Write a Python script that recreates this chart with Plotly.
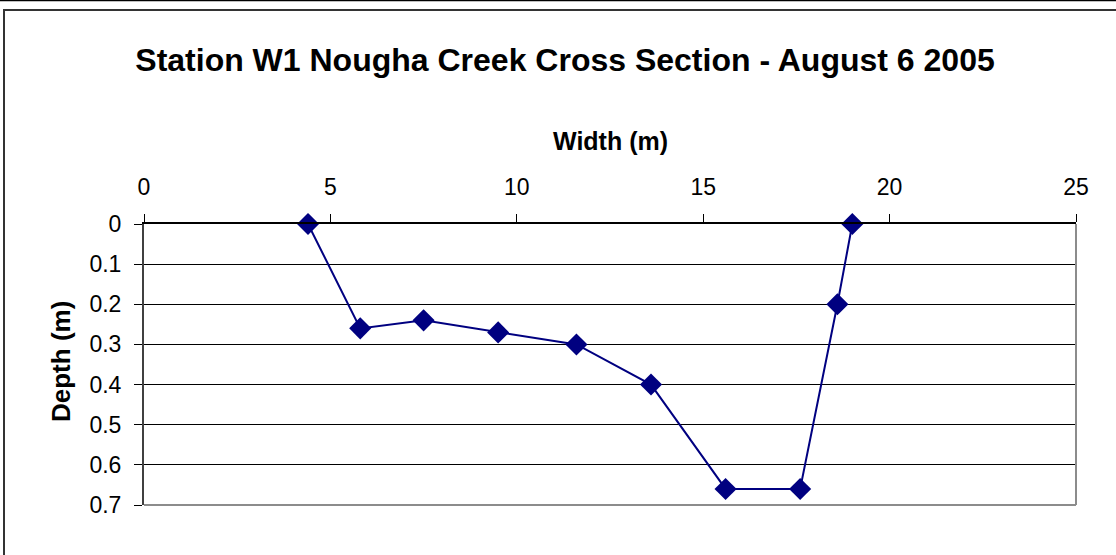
import plotly.graph_objects as go

# Cross-section survey points
width_m = [4.4, 5.8, 7.5, 9.5, 11.6, 13.6, 15.6, 17.6, 18.6, 19.0]
depth_m = [0.0, 0.26, 0.24, 0.27, 0.30, 0.40, 0.66, 0.66, 0.20, 0.0]

x_ticks = [0, 5, 10, 15, 20, 25]
y_ticks = [0, 0.1, 0.2, 0.3, 0.4, 0.5, 0.6, 0.7]

W, H = 1116, 555
L, R, T, B = 144, 40, 224, 50
pw, ph = W - L - R, H - T - B


# pixel -> paper coordinates
def px(x):
    return (x - L) / pw


def py(y):
    return (H - B - y) / ph


FONT = "Liberation Sans, Arial, sans-serif"

fig = go.Figure()

fig.add_trace(
    go.Scatter(
        x=width_m,
        y=depth_m,
        mode="lines+markers",
        line=dict(color="#000080", width=2),
        marker=dict(symbol="diamond", size=17, color="#000080"),
        showlegend=False,
        cliponaxis=False,
    )
)

shapes = [
    # outer chart frame
    dict(type="rect", xref="paper", yref="paper",
         x0=px(4), x1=px(W + 20), y0=py(H + 20), y1=py(10),
         line=dict(color="#333333", width=2), layer="below"),
    dict(type="line", xref="paper", yref="paper",
         x0=px(-5), x1=px(W + 5), y0=py(0.5), y1=py(0.5),
         line=dict(color="black", width=1.5)),
    # right and bottom plot-area border
    dict(type="line", xref="paper", yref="paper", x0=1, x1=1, y0=0, y1=1,
         line=dict(color="#8c8c8c", width=2)),
    dict(type="line", xref="paper", yref="paper", x0=0, x1=1, y0=0, y1=0,
         line=dict(color="#8c8c8c", width=2)),
]

annotations = [
    dict(text="<b>Width (m)</b>", xref="paper", yref="paper",
         x=px(610), y=py(141), xanchor="center", yanchor="middle",
         showarrow=False, font=dict(size=25, family=FONT, color="black")),
    dict(text="<b>Depth (m)</b>", xref="paper", yref="paper",
         x=px(61), y=py(362), xanchor="center", yanchor="middle",
         textangle=-90, showarrow=False,
         font=dict(size=26, family=FONT, color="black")),
]

fig.update_layout(
    width=W,
    height=H,
    margin=dict(l=L, r=R, t=T, b=B),
    paper_bgcolor="white",
    plot_bgcolor="white",
    font=dict(family=FONT, color="black"),
    title=dict(
        text="<b>Station W1 Nougha Creek Cross Section - August 6 2005</b>",
        font=dict(size=32, family=FONT, color="black"),
        x=565 / W,
        xanchor="center",
        y=1 - 60 / H,
        yanchor="middle",
    ),
    xaxis=dict(
        side="top",
        range=[0, 25],
        tickvals=x_ticks,
        ticktext=[str(v) for v in x_ticks],
        ticks="outside",
        ticklen=8,
        tickcolor="black",
        tickfont=dict(size=23, family=FONT),
        ticklabelstandoff=10,
        showline=True,
        linecolor="black",
        linewidth=1.5,
        showgrid=False,
        zeroline=False,
    ),
    yaxis=dict(
        range=[0.7, 0],
        tickvals=y_ticks,
        ticktext=["0", "0.1", "0.2", "0.3", "0.4", "0.5", "0.6", "0.7"],
        ticks="outside",
        ticklen=8,
        tickcolor="black",
        tickfont=dict(size=23, family=FONT),
        ticklabelstandoff=8,
        showline=True,
        linecolor="#404040",
        linewidth=2,
        showgrid=True,
        gridcolor="black",
        gridwidth=1,
        zeroline=False,
    ),
    shapes=shapes,
    annotations=annotations,
)

fig.write_html(
    "out.html",
    config={"displayModeBar": False},
    post_script="document.body.style.margin='0px';",
)
